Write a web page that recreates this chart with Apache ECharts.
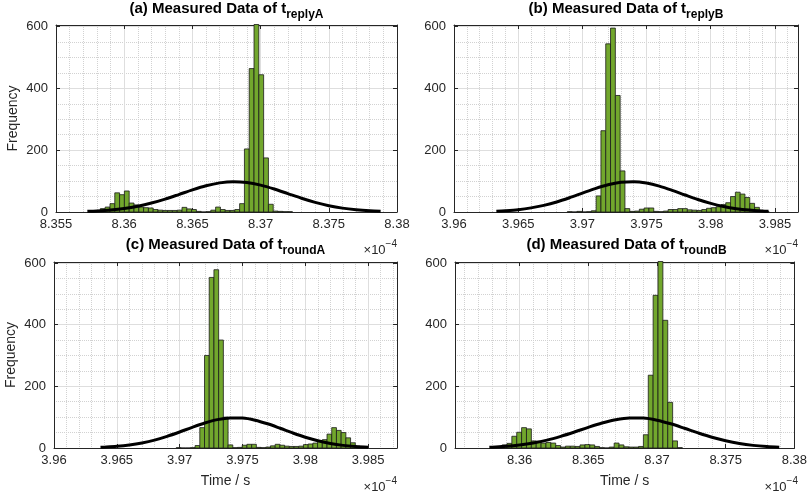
<!DOCTYPE html>
<html><head><meta charset="utf-8">
<script src="https://cdn.jsdelivr.net/npm/echarts@6/dist/echarts.min.js"></script>
<style>html,body{margin:0;padding:0;background:#fff}#c{width:810px;height:496px}</style>
</head><body><div id="c"></div>
<script>
// ---------------- data ----------------
const freqTicks = [0, 200, 400, 600];

const replyA_binStart = 8.35755;
const replyA_binWidth = 0.000352;
const replyA_counts = [1, 2, 11, 16, 27, 62, 56, 68, 29, 23, 16, 14, 13, 8, 6, 5, 5, 5, 6, 15, 10, 8, 2, 0, 1, 6, 16, 8, 5, 5, 8, 27, 204, 464, 630, 444, 175, 25, 3, 2, 1, 1];
const replyA_fitX = [8.3573, 8.358, 8.359, 8.360, 8.361, 8.362, 8.363, 8.364, 8.365, 8.366, 8.367, 8.368, 8.369, 8.370, 8.371, 8.372, 8.373, 8.374, 8.375, 8.376, 8.377, 8.378, 8.3788];
const replyA_fitY = [2.1, 3.4, 6.5, 11.3, 18.7, 28.9, 41.7, 56.4, 71.5, 84.8, 94.2, 98, 95.4, 87, 74.4, 59.5, 44.5, 31.2, 20.4, 12.5, 7.3, 3.9, 2.3];
const replyA_ticks = [8.355, 8.36, 8.365, 8.37, 8.375, 8.38];

const replyB_binStart = 3.96883;
const replyB_binWidth = 0.000374;
const replyB_counts = [1, 0, 2, 0, 1, 4, 52, 263, 544, 595, 377, 133, 11, 2, 3, 9, 13, 13, 2, 1, 3, 8, 8, 11, 11, 7, 6, 5, 8, 12, 14, 17, 24, 30, 50, 64, 58, 47, 28, 15, 4, 2];
const replyB_fitX = [3.9633, 3.964, 3.965, 3.966, 3.967, 3.968, 3.969, 3.970, 3.971, 3.972, 3.973, 3.974, 3.975, 3.976, 3.977, 3.978, 3.979, 3.980, 3.981, 3.982, 3.983, 3.984, 3.9845];
const replyB_fitY = [2.6, 4.2, 7.6, 13.3, 21.5, 32.3, 46, 61, 75.7, 88, 96, 98, 93.5, 83.6, 70, 54.9, 40.3, 27.8, 17.9, 10.8, 6.1, 3.2, 2.3];
const replyB_ticks = [3.96, 3.965, 3.97, 3.975, 3.98, 3.985];

const roundA_binStart = 3.96973;
const roundA_binWidth = 0.000375;
const roundA_counts = [1, 0, 0, 1, 8, 66, 300, 553, 578, 350, 100, 10, 1, 2, 9, 12, 12, 2, 1, 3, 7, 12, 9, 6, 5, 5, 6, 11, 13, 16, 22, 27, 45, 66, 57, 50, 33, 17, 6, 1];
const roundA_fitX = [3.9637, 3.964, 3.965, 3.966, 3.967, 3.968, 3.969, 3.970, 3.971, 3.972, 3.973, 3.974, 3.975, 3.976, 3.977, 3.978, 3.979, 3.980, 3.981, 3.982, 3.983, 3.984, 3.985];
const roundA_fitY = [2.3, 2.8, 5.4, 9.7, 16.2, 25.4, 37.7, 51.9, 67, 81, 91.9, 97.5, 96.9, 90.2, 78.5, 64, 48.9, 34.9, 23.5, 14.6, 8.5, 4.7, 2.4];
const roundA_ticks = [3.96, 3.965, 3.97, 3.975, 3.98, 3.985];

const roundB_binStart = 8.35802;
const roundB_binWidth = 0.0003546;
const roundB_counts = [2, 3, 10, 15, 38, 51, 66, 62, 23, 22, 16, 18, 16, 8, 3, 6, 6, 5, 10, 11, 10, 5, 1, 0, 3, 16, 10, 4, 3, 3, 5, 43, 236, 495, 640, 414, 148, 23, 1];
const roundB_fitX = [8.3578, 8.358, 8.359, 8.360, 8.361, 8.362, 8.363, 8.364, 8.365, 8.366, 8.367, 8.368, 8.369, 8.370, 8.371, 8.372, 8.373, 8.374, 8.375, 8.376, 8.377, 8.378, 8.3789];
const roundB_fitY = [2.4, 2.8, 5.4, 9.7, 16.2, 25.4, 37.7, 51.9, 67, 81, 91.9, 97.5, 96.9, 90.2, 78.5, 64, 48.9, 34.9, 23.5, 14.6, 8.5, 4.7, 2.6];
const roundB_ticks = [8.36, 8.365, 8.37, 8.375, 8.38];

// ---------------- layout / style ----------------
const FONT = '"Liberation Sans", Arial, Helvetica, sans-serif';
const INK = '#262626';
const BAR = '#72A72D';

const panels = [
  {title: '(a) Measured Data of t', sub: 'replyA', start: replyA_binStart, bw: replyA_binWidth, counts: replyA_counts,
   fx: replyA_fitX, fy: replyA_fitY, ticks: replyA_ticks, xmin: 8.355, xmax: 8.38, interval: 0.005, ymax: 605,
   grid: {left: 56, top: 25, width: 341, height: 187}, ylab: true, xlab: false, titleY: 1, expY: 239},
  {title: '(b) Measured Data of t', sub: 'replyB', start: replyB_binStart, bw: replyB_binWidth, counts: replyB_counts,
   fx: replyB_fitX, fy: replyB_fitY, ticks: replyB_ticks, xmin: 3.96, xmax: 3.9868, interval: 0.005, ymax: 605,
   grid: {left: 454, top: 25, width: 344, height: 187}, ylab: false, xlab: false, titleY: 1, expY: 239},
  {title: '(c) Measured Data of t', sub: 'roundA', start: roundA_binStart, bw: roundA_binWidth, counts: roundA_counts,
   fx: roundA_fitX, fy: roundA_fitY, ticks: roundA_ticks, xmin: 3.96, xmax: 3.9873, interval: 0.005, ymax: 603,
   grid: {left: 54, top: 262, width: 343, height: 186}, ylab: true, xlab: true, titleY: 237, expY: 476},
  {title: '(d) Measured Data of t', sub: 'roundB', start: roundB_binStart, bw: roundB_binWidth, counts: roundB_counts,
   fx: roundB_fitX, fy: roundB_fitY, ticks: roundB_ticks, xmin: 8.3553, xmax: 8.38, interval: null, ymax: 603,
   grid: {left: 455, top: 262, width: 343, height: 186}, ylab: false, xlab: true, titleY: 237, expY: 476}
];

const onTick = (v, arr) => arr.some(t => Math.abs(t - v) < 1e-7);

const grid = [], xAxis = [], yAxis = [], series = [], graphic = [];

panels.forEach((p, i) => {
  grid.push(Object.assign({containLabel: false}, p.grid));
  const axisLine = {show: true, onZero: false, lineStyle: {color: INK, width: 1}};
  const axisTick = {show: true, inside: true, length: 4, lineStyle: {color: INK, width: 1}};
  const xb = {gridIndex: i, type: 'value', min: p.xmin, max: p.xmax, axisLine, axisTick,
              minorTick: {show: false, splitNumber: 5}};
  if (p.interval) xb.interval = p.interval; else xb.splitNumber = 5;
  xAxis.push(Object.assign({}, xb, {
    position: 'bottom',
    axisLabel: {show: true, color: INK, fontSize: 13, fontFamily: FONT, margin: 6, hideOverlap: false,
      formatter: v => onTick(v, p.ticks) ? String(+v.toFixed(4)) : ''},
    splitLine: {show: true, lineStyle: {color: '#dedede', width: 1}},
    minorSplitLine: {show: true, lineStyle: {color: '#d2d2d2', width: 1, type: 'dotted'}},
    name: p.xlab ? 'Time / s' : '', nameLocation: 'middle', nameGap: 26,
    nameTextStyle: {color: INK, fontSize: 14, fontFamily: FONT}
  }));
  xAxis.push(Object.assign({}, xb, {position: 'top', axisLabel: {show: false}, splitLine: {show: false}}));

  const yb = {gridIndex: i, type: 'value', min: 0, max: p.ymax, interval: 200, axisLine, axisTick,
              minorTick: {show: false, splitNumber: 4}};
  yAxis.push(Object.assign({}, yb, {
    position: 'left',
    axisLabel: {show: true, color: INK, fontSize: 13, fontFamily: FONT, margin: 8,
      formatter: v => onTick(v, freqTicks) ? String(Math.round(v)) : ''},
    splitLine: {show: true, lineStyle: {color: '#dedede', width: 1}},
    minorSplitLine: {show: true, lineStyle: {color: '#d2d2d2', width: 1, type: 'dotted'}},
    name: p.ylab ? 'Frequency' : '', nameLocation: 'middle', nameGap: 36,
    nameTextStyle: {color: INK, fontSize: 14, fontFamily: FONT}
  }));
  yAxis.push(Object.assign({}, yb, {position: 'right', axisLabel: {show: false}, splitLine: {show: false}}));

  const binData = p.counts.map((c, k) => [p.start + k * p.bw, p.start + (k + 1) * p.bw, c]);
  series.push({
    type: 'custom', xAxisIndex: 2 * i, yAxisIndex: 2 * i, data: binData,
    encode: {x: [0, 1], y: 2}, z: 2, silent: true,
    renderItem: (params, api) => {
      const a = api.coord([api.value(0), api.value(2)]);
      const b = api.coord([api.value(1), 0]);
      const cs = params.coordSys;
      const r = echarts.graphic.clipRectByRect(
        {x: a[0], y: a[1], width: b[0] - a[0], height: b[1] - a[1]},
        {x: cs.x, y: cs.y - 0.5, width: cs.width, height: cs.height + 0.5});
      return r && {type: 'rect', shape: r, style: {fill: BAR, stroke: '#1a1a1a', lineWidth: 0.8}};
    }
  });
  series.push({
    type: 'line', xAxisIndex: 2 * i, yAxisIndex: 2 * i, z: 4, silent: true,
    data: p.fx.map((x, k) => [x, p.fy[k]]), smooth: 0.3, showSymbol: false, symbol: 'none',
    lineStyle: {color: '#000', width: 3}
  });

  const cx = p.grid.left + p.grid.width / 2;
  graphic.push({
    type: 'text', x: cx, y: p.titleY, silent: true,
    style: {
      text: '{m|' + p.title + '}{s|' + p.sub + '}',
      textAlign: 'center', textVerticalAlign: 'top',
      rich: {
        m: {fill: '#000', fontSize: 15, fontWeight: 'bold', fontFamily: FONT, lineHeight: 18, verticalAlign: 'top'},
        s: {fill: '#000', fontSize: 12, fontWeight: 'bold', fontFamily: FONT, lineHeight: 14, padding: [8, 0, 0, 0], verticalAlign: 'top'}
      }
    }
  });
  graphic.push({
    type: 'text', x: p.grid.left + p.grid.width, y: p.expY, silent: true,
    style: {
      text: '{a|\u00d710}{b|\u22124}',
      textAlign: 'right', textVerticalAlign: 'top',
      rich: {
        a: {fill: INK, fontSize: 13, fontFamily: FONT, lineHeight: 14, padding: [5, 0, 0, 0], verticalAlign: 'top'},
        b: {fill: INK, fontSize: 10, fontFamily: FONT, lineHeight: 11, verticalAlign: 'top'}
      }
    }
  });
});

const chart = echarts.init(document.getElementById('c'), null, {renderer: 'canvas'});
chart.setOption({
  animation: false,
  backgroundColor: '#fff',
  grid, xAxis, yAxis, series, graphic
});
</script>
</body></html>
